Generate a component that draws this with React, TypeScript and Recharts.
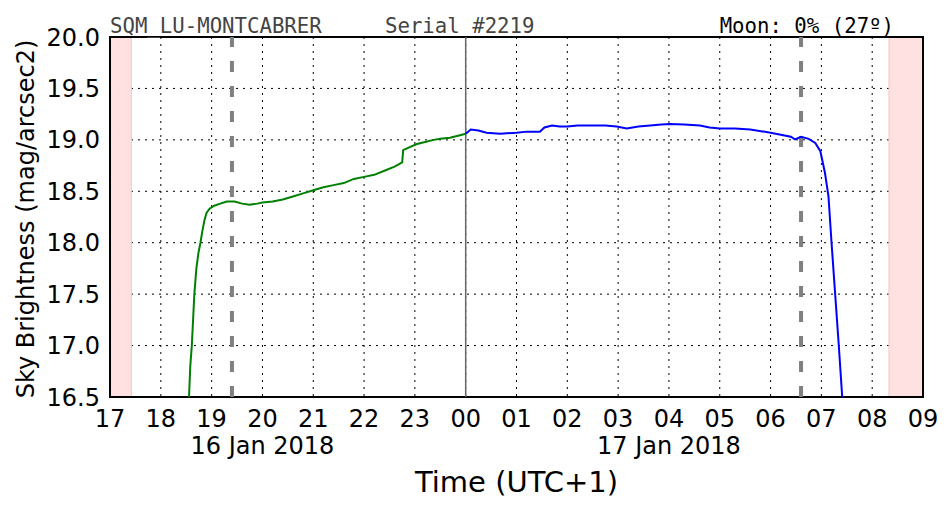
import { ComposedChart, Line, XAxis, YAxis, CartesianGrid, ReferenceArea, ReferenceLine } from 'recharts'

// hours since midnight of 16 Jan (24 = 00:00 of 17 Jan)
const GREEN_T = [18.555, 18.58, 18.61, 18.64, 18.66, 18.7, 18.74, 18.78, 18.82, 18.86, 18.9, 18.96, 19.05, 19.17, 19.3, 19.45, 19.6, 19.75, 19.9, 20.0, 20.2, 20.4, 20.6, 20.8, 21.0, 21.2, 21.4, 21.6, 21.8, 22.0, 22.2, 22.4, 22.6, 22.75, 22.77, 22.9, 23.04, 23.2, 23.37, 23.5, 23.69, 23.85, 24.0]
const GREEN_V = [16.5, 16.8, 17.0, 17.3, 17.5, 17.75, 17.9, 18.0, 18.12, 18.22, 18.29, 18.33, 18.36, 18.38, 18.4, 18.4, 18.38, 18.37, 18.38, 18.39, 18.4, 18.42, 18.45, 18.48, 18.51, 18.54, 18.56, 18.58, 18.62, 18.64, 18.66, 18.7, 18.74, 18.78, 18.9, 18.93, 18.96, 18.98, 19.0, 19.01, 19.02, 19.04, 19.06]

const BLUE_T = [24.1, 24.25, 24.41, 24.68, 25.0, 25.2, 25.46, 25.55, 25.7, 25.85, 26.0, 26.2, 26.5, 26.75, 26.97, 27.17, 27.4, 27.63, 27.85, 28.02, 28.3, 28.61, 28.8, 29.0, 29.3, 29.6, 30.0, 30.2, 30.4, 30.48, 30.6, 30.75, 30.88, 30.98, 31.07, 31.14, 31.2, 31.27, 31.34, 31.41]
const BLUE_V = [19.1, 19.09, 19.07, 19.06, 19.07, 19.08, 19.08, 19.12, 19.14, 19.13, 19.13, 19.14, 19.14, 19.14, 19.13, 19.11, 19.13, 19.14, 19.15, 19.155, 19.15, 19.14, 19.12, 19.11, 19.11, 19.1, 19.07, 19.05, 19.03, 19.005, 19.03, 19.01, 18.97, 18.89, 18.68, 18.45, 18.0, 17.51, 17.02, 16.5]

const HOUR_TICKS = [17, 18, 19, 20, 21, 22, 23, 24, 25, 26, 27, 28, 29, 30, 31, 32, 33]
const Y_TICKS = [16.5, 17.0, 17.5, 18.0, 18.5, 19.0, 19.5, 20.0]
const DATE_TICKS = [20, 28]
const DATE_LABELS = ['16 Jan 2018', '17 Jan 2018']

const TWILIGHT = [[17, 17.42], [32.33, 33]]
const SUN_MARKS = [19.4, 30.6]
const MIDNIGHT = 24

const W = 952
const H = 512
const FONT = '"DejaVu Sans", sans-serif'
const MONO = '"DejaVu Sans Mono", monospace'

const rows: { t: number; green?: number; blue?: number }[] = [
  ...GREEN_T.map((t, i) => ({ t, green: GREEN_V[i], blue: t === MIDNIGHT ? GREEN_V[i] : undefined })),
  ...BLUE_T.map((t, i) => ({ t, blue: BLUE_V[i] })),
]

const hourLabel = (h: number) => String(h % 24).padStart(2, '0')

export default function App() {
  return (
    <div style={{ position: 'relative', width: W, height: H, background: '#fff' }}>
      <style>{'body{margin:0}'}</style>
      <ComposedChart width={W} height={H} data={rows} margin={{ top: 37, right: 29, bottom: 0, left: 0 }}>
        <ReferenceArea x1={TWILIGHT[0][0]} x2={TWILIGHT[0][1]} y1={16.5} y2={20} fill="#ffe1e1" fillOpacity={1} stroke="#f7c4c4" strokeWidth={1} />
        <ReferenceArea x1={TWILIGHT[1][0]} x2={TWILIGHT[1][1]} y1={16.5} y2={20} fill="#ffe1e1" fillOpacity={1} stroke="#f7c4c4" strokeWidth={1} />
        <CartesianGrid stroke="#000" strokeDasharray="2 5" strokeWidth={1} />
        <XAxis
          dataKey="t"
          type="number"
          domain={[17, 33]}
          ticks={HOUR_TICKS}
          tickFormatter={hourLabel}
          tick={{ fontSize: 24, fill: '#000', fontFamily: FONT }}
          tickLine={false}
          axisLine={false}
          tickMargin={7}
          height={40}
          interval={0}
          allowDataOverflow
        />
        <XAxis
          xAxisId="date"
          dataKey="t"
          type="number"
          domain={[17, 33]}
          ticks={DATE_TICKS}
          tickFormatter={(v: number) => DATE_LABELS[DATE_TICKS.indexOf(v)]}
          tick={{ fontSize: 24, fill: '#000', fontFamily: FONT }}
          tickLine={false}
          axisLine={false}
          tickSize={0}
          tickMargin={0}
          height={75}
          interval={0}
          label={{
            content: ({ viewBox }: any) => (
              <text x={viewBox.x + viewBox.width / 2} y={viewBox.y + 55} textAnchor="middle" fontSize={29} fontFamily={FONT} fill="#000">
                Time (UTC+1)
              </text>
            ),
          }}
        />
        <YAxis
          type="number"
          domain={[16.5, 20]}
          ticks={Y_TICKS}
          tickFormatter={(v: number) => v.toFixed(1)}
          tick={{ fontSize: 24, fill: '#000', fontFamily: FONT }}
          tickLine={false}
          axisLine={false}
          tickMargin={4}
          width={110}
          interval={0}
          allowDataOverflow
          label={{
            content: ({ viewBox }: any) => {
              const cx = 34
              const cy = viewBox.y + viewBox.height / 2 + 2
              return (
                <text x={cx} y={cy} transform={`rotate(-90, ${cx}, ${cy})`} textAnchor="middle" fontSize={24} fontFamily={FONT} fill="#000">
                  Sky Brightness (mag/arcsec2)
                </text>
              )
            },
          }}
        />
        {SUN_MARKS.map((x) => (
          <ReferenceLine key={x} x={x} stroke="#808080" strokeWidth={4} strokeDasharray="11 14" />
        ))}
        <ReferenceLine x={MIDNIGHT} stroke="#666" strokeWidth={1.5} />
        <Line dataKey="green" type="linear" stroke="#008000" strokeWidth={2} dot={false} connectNulls isAnimationActive={false} />
        <Line dataKey="blue" type="linear" stroke="#0000ff" strokeWidth={2} dot={false} connectNulls isAnimationActive={false} />
        <ReferenceArea x1={17} x2={33} y1={16.5} y2={20} fill="none" stroke="#000" strokeWidth={2} />
      </ComposedChart>
      <svg width={W} height={H} style={{ position: 'absolute', left: 0, top: 0, pointerEvents: 'none' }}>
        <text x={110} y={33} fontSize={20.7} fontFamily={MONO} fill="#444">SQM_LU-MONTCABRER</text>
        <text x={385} y={33} fontSize={20.7} fontFamily={MONO} fill="#444">Serial #2219</text>
        <text x={894} y={33} textAnchor="end" fontSize={20.7} fontFamily={MONO} fill="#000">Moon: 0% (27º)</text>
      </svg>
    </div>
  )
}
